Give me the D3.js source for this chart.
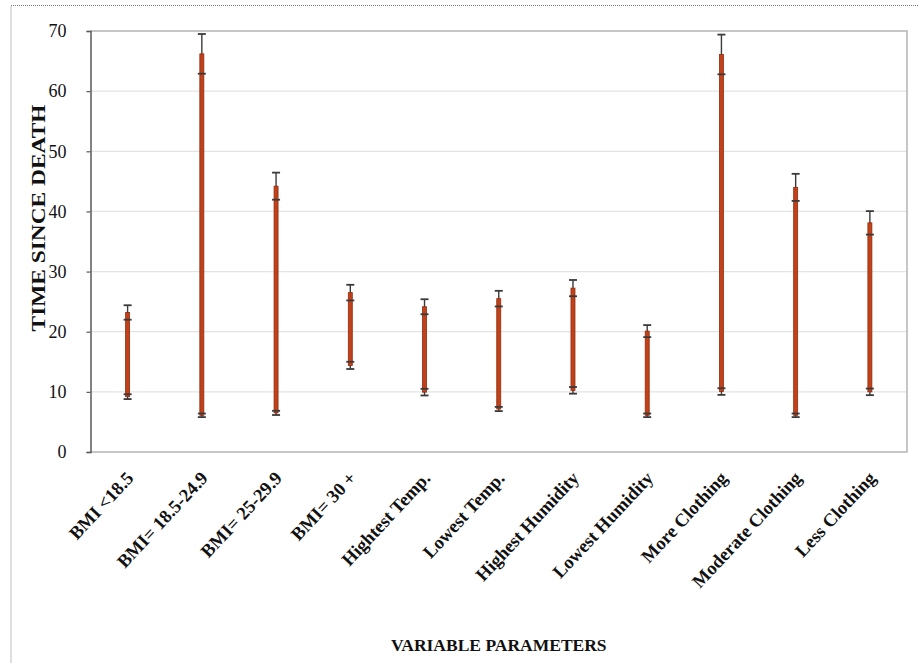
<!DOCTYPE html>
<html>
<head>
<meta charset="utf-8">
<script src="https://cdn.jsdelivr.net/npm/d3@7"></script>
<style>
  html, body { margin: 0; padding: 0; background: #fff; }
</style>
</head>
<body>
<div id="chart"></div>
<script>
// Time since death ranges per variable parameter.
// Each column is a floating bar low -> high, with an error bar on both ends.

const categories = [
  "BMI <18.5", "BMI= 18.5-24.9", "BMI= 25-29.9", "BMI= 30 +",
  "Hightest Temp.", "Lowest Temp.", "Highest Humidity", "Lowest Humidity",
  "More Clothing", "Moderate Clothing", "Less Clothing"
];
const lowValues  = [9.2, 6.1, 6.5, 14.4, 9.95, 7.15, 10.25, 6.1, 10.05, 6.1, 10.0];
const lowErrors  = [0.4, 0.3, 0.35, 0.6, 0.55, 0.35, 0.55, 0.3, 0.55, 0.3, 0.55];
const highValues = [23.2, 66.2, 44.2, 26.5, 24.15, 25.5, 27.25, 20.1, 66.1, 44.0, 38.1];
const highErrors = [1.2, 3.3, 2.25, 1.3, 1.25, 1.3, 1.35, 1.0, 3.3, 2.25, 1.95];
const yTicks = [0, 10, 20, 30, 40, 50, 60, 70];

const W = 919, H = 663;
const margin = { top: 31, right: 12, bottom: 211, left: 90.5 };
const plotW = W - margin.left - margin.right;
const plotH = H - margin.top - margin.bottom;
const serif = "'Liberation Serif', 'Times New Roman', serif";

const svg = d3.select("#chart").append("svg")
  .attr("width", W).attr("height", H)
  .style("display", "block");

svg.append("rect").attr("width", W).attr("height", H).attr("fill", "#fff");

// dotted outer frame (only top and left show inside the picture)
svg.append("rect")
  .attr("x", 11).attr("y", 5.5)
  .attr("width", W + 20).attr("height", H + 20)
  .attr("fill", "none")
  .attr("stroke", "#7a7a7a")
  .attr("stroke-width", 1)
  .attr("stroke-dasharray", "1 1");

const x = d3.scaleBand().domain(categories).range([0, plotW]).padding(0);
const y = d3.scaleLinear().domain([0, 70]).range([plotH, 0]);

const g = svg.append("g").attr("transform", `translate(${margin.left},${margin.top})`);

// gridlines
g.append("g")
  .selectAll("line")
  .data(yTicks.filter(t => t > 0 && t < 70))
  .join("line")
  .attr("x1", 0).attr("x2", plotW)
  .attr("y1", d => y(d)).attr("y2", d => y(d))
  .attr("stroke", "#e3e3e3").attr("stroke-width", 1.2);

// plot box: top, right, bottom
g.append("path")
  .attr("d", `M0,${y(70)}H${plotW}V${y(0)}H0`)
  .attr("fill", "none")
  .attr("stroke", "#b4b4b4")
  .attr("stroke-width", 1.5);

// y axis
g.append("g")
  .call(d3.axisLeft(y).tickValues(yTicks).tickSize(4).tickPadding(20).tickFormat(d3.format("d")))
  .call(a => a.select(".domain").attr("stroke", "#5a5a5a").attr("stroke-width", 1.5))
  .call(a => a.selectAll(".tick line").attr("stroke", "#5a5a5a").attr("stroke-width", 1.2))
  .call(a => a.selectAll(".tick text")
    .attr("fill", "#111")
    .attr("font-family", serif)
    .attr("font-size", "18px"));

// x labels
g.append("g")
  .attr("transform", `translate(0,${plotH})`)
  .call(d3.axisBottom(x).tickSize(0).tickPadding(0))
  .call(a => a.select(".domain").remove())
  .call(a => a.selectAll(".tick text")
    .attr("fill", "#111")
    .attr("font-family", serif)
    .attr("font-size", "18.5px")
    .attr("font-weight", "bold")
    .attr("text-anchor", "end")
    .attr("dy", "0")
    .attr("y", 0)
    .attr("transform", "translate(7,27) rotate(-47)"));

const cx = d => x(d) + x.bandwidth() / 2;
const errColor = "#3a3a3a";
const capW = 4;

const rows = categories.map((c, i) => ({
  c, lo: lowValues[i], loE: lowErrors[i], hi: highValues[i], hiE: highErrors[i]
}));

// error bar stems (drawn under the bars)
g.append("g").selectAll("line")
  .data(rows)
  .join("line")
  .attr("x1", d => cx(d.c)).attr("x2", d => cx(d.c))
  .attr("y1", d => y(d.hi + d.hiE)).attr("y2", d => y(d.lo - d.loE))
  .attr("stroke", errColor).attr("stroke-width", 1.4);

// floating bars
g.append("g").selectAll("rect")
  .data(rows)
  .join("rect")
  .attr("x", d => cx(d.c) - 2)
  .attr("width", 4)
  .attr("y", d => y(d.hi))
  .attr("height", d => y(d.lo) - y(d.hi))
  .attr("fill", "#c1411a")
  .attr("stroke", "#8f2c0e")
  .attr("stroke-width", 0.8);

// caps at both error ends of both bar ends
const caps = [];
rows.forEach(d => {
  [d.hi + d.hiE, d.hi - d.hiE, d.lo + d.loE, d.lo - d.loE].forEach(v => caps.push({ c: d.c, v }));
});
g.append("g").selectAll("line")
  .data(caps)
  .join("line")
  .attr("x1", d => cx(d.c) - capW).attr("x2", d => cx(d.c) + capW)
  .attr("y1", d => y(d.v)).attr("y2", d => y(d.v))
  .attr("stroke", errColor).attr("stroke-width", 1.8);

// axis titles (the source picture is stretched vertically, so the
// rotated title is stretched along its length)
svg.append("text")
  .attr("transform", `translate(45,218) rotate(-90) scale(1.3,1)`)
  .attr("text-anchor", "middle")
  .attr("font-family", serif)
  .attr("font-size", "18px")
  .attr("font-weight", "bold")
  .attr("fill", "#111")
  .text("TIME SINCE DEATH");

svg.append("text")
  .attr("x", margin.left + plotW / 2)
  .attr("y", 651)
  .attr("text-anchor", "middle")
  .attr("font-family", serif)
  .attr("font-size", "17.5px")
  .attr("font-weight", "bold")
  .attr("fill", "#111")
  .text("VARIABLE PARAMETERS");
</script>
</body>
</html>
